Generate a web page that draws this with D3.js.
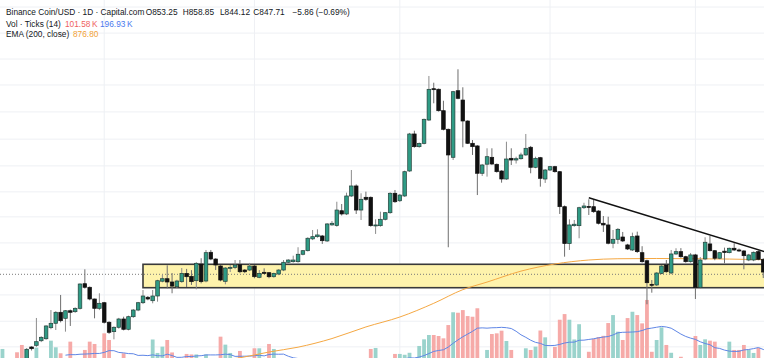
<!DOCTYPE html>
<html><head><meta charset="utf-8">
<script src="https://cdn.jsdelivr.net/npm/d3@7"></script>
<style>
html,body{margin:0;padding:0;background:#fff;overflow:hidden}
svg{display:block}
text{font-family:"Liberation Sans",Arial,sans-serif}
</style></head><body>
<svg id="c" width="764" height="358"></svg>
<script>
// ---- data (daily candles from 2025-07-11) ----
const startDate = "2025-07-11";
const opens = [684,692,689,693,690,
689,715.8,718.6,726.3,729.7,748.7,756.4,776.0,765.2,778.8,
777.1,783.2,829.4,822.5,800.4,783.2,793.5,758.2,741.8,749.4,
764.0,745.9,768.1,780.1,793.5,803.6,797.2,806.0,834.2,839.1,
832.7,823.5,833.3,849.6,843.8,835.2,868.3,834.6,892.3,878.4,
864.3,834.0,860.2,861.6,866.9,856.2,856.2,864.2,841.8,851.7,
850.9,843.0,848.3,856.2,871.8,873.0,873.0,888.2,895.6,920.6,
925.3,926.8,916.1,951.0,949.5,982.9,975.5,1017.2,1041.2,984.5,
1014.1,1014.1,948.7,949.3,963.5,978.4,1023.6,1006.0,1017.2,1078.1,
1175.1,1140.9,1149.7,1213.9,1305.7,1304.0,1240.5,1188.0,1113.0,1299.6,
1271.7,1211.1,1149.9,1142.8,1072.4,1095.3,1113.0,1095.0,1078.1,1058.2,
1110.4,1106.0,1109.4,1119.1,1139.3,1087.4,1112.0,1058.2,1080.6,1089.0,
1076.4,992.2,910.6,949.3,949.3,989.8,992.9,992.2,982.2,954.6,
950.9,911.3,919.7,924.6,907.7,897.1,926.8,891.5,874.9,828.2,
826.9,849.6,866.3,850.3,888.8,893.6,883.2,873.0,886.8,822.5,
878.6,909.8,895.6,880.0,894.6,891.5,900.7,897.1,895.0,876.4,
876.4,893.6,877.8,853.25];
const highs = [694,697,695,696,693,
714,717,765.8,734,753,780.1,778,807.9,780,781,
785,830,857.6,824,801,811.1,795,760,751,766,
768.1,770,782,795,817.3,806,817.3,837,846.3,865.7,
850.3,837,860.2,858.5,856,872,880.0,897.1,897.1,880,
866,862,866.3,876.4,876.4,858,870.5,866,856.2,859.6,
852,851,858,876.4,878,885.3,902.8,897,924,939.8,
941.3,929,955,959.7,1003.7,998.4,1025.1,1080.6,1045,1023.6,
1027.5,1016,963.5,980.7,980,1026,1031.5,1022,1079,1178,
1184.1,1152,1218,1344.9,1324.0,1306,1269.6,1190,1299,1366.0,
1310.0,1213,1158.7,1145,1096,1136.6,1136.6,1097,1080,1154.2,
1136.6,1114.6,1125.1,1175.1,1142.8,1114.6,1114,1083,1091,1091,
1078,995,963.5,961.9,992,1001.3,1009.4,1007.7,984,970.9,
969.3,939.8,944,935.5,910,934.0,936.2,905,877,836.5,
852,866,876.4,897.1,900.7,901,885,890.9,889,882.6,
924.0,926.8,897,893,902.0,902,911.3,900,897,889,
894,896,880,858.85];
const lows = [680,686,684,683,678,
686,710,716,724,728,746,744.7,758,741.8,751.7,
775,781,820,798,765.2,780,756,738,728.7,747,
744,744,766,778,791,798,792.4,795.4,832,820.5,
811.1,821,831,823.0,827,818.6,830,832,876,856.2,
834,828.2,852.2,858,850,850,854,839.9,840,848,
840,841,846,854,870,871,871,886,894,918,
923,909.8,914,949,947,972,973,1015,975.5,961.9,
1006,947,931.2,947,961,976,1001,1003,1015,1076,
1138,1138,1147,1211,1262.1,1238,1185,902.8,1106,1274,
1139.3,1148,1119.1,1019.4,1065.7,1064.0,1093,1074,1049.2,1056,
1093.3,1097,1107,1117,1072.4,1085,1039.5,1048.5,1078,1074,
975.5,883.2,897.1,947,921.9,987,973.2,978,952,935.5,
909,900.7,909.8,914,897,895,891,871,790.6,812.2,
825,848,851,848,887,881,871,871,800.4,820,
876,894,876,878,869.7,890,895,893,857.6,874,
874,876,840.4,844.12];
const closes = [692,689,693,690,689,
712.0,713.0,724.7,732.1,751.7,756.4,776.0,761.0,778.8,776.0,
783.2,828.8,822.5,800.4,783.2,792.4,758.2,740.7,749.4,764.0,
745.9,768.1,780.1,793.5,806.0,800.4,806.0,835.2,839.1,832.7,
824.8,834.6,849.6,843.0,833.3,869.7,833.3,891.5,878.4,866.3,
836.5,860.2,861.6,866.3,852.8,852.8,864.2,843.0,849.6,849.6,
843.0,849.6,856.2,871.8,876.4,876.4,888.2,895.6,921.9,925.3,
929.0,916.7,953.1,954.6,984.5,975.5,1017.2,1041.2,984.5,1009.4,
1009.4,949.3,950.9,963.5,978.4,1023.6,1003.7,1019.4,1076.4,1175.1,
1140.9,1149.7,1215.9,1303.8,1304.0,1240.5,1188.0,1119.1,1296.6,1276.8,
1211.1,1149.9,1140.9,1072.4,1093.3,1114.6,1095.8,1076.4,1058.2,1108.6,
1106.0,1109.4,1119.1,1136.6,1087.4,1110.4,1059.9,1080.6,1089.0,1076.4,
992.2,910.6,950.9,952.5,989.8,993.8,992.2,980.7,954.6,950.9,
911.3,919.7,941.3,916.1,899.2,925.3,893.6,873.0,831.3,826.9,
850.3,864.2,852.8,888.8,893.6,883.2,873.0,886.8,822.5,876.4,
913.4,895.6,880.0,891.5,891.9,900.7,897.1,895.0,885.3,886.8,
892.3,877.8,852.2,847.71];
// volume in thousands (ticks)
const volumes = [217,120,110,197,241,
215,130,225,120,130,267,227,191,125,261,
115,150,211,261,247,130,311,271,125,120,
191,130,110,120,130,120,274,193,231,271,
196,120,130,187,184,184,130,184,130,120,
291,243,193,120,205,125,140,221,221,130,
247,217,120,130,110,115,130,120,140,130,
110,125,140,110,150,130,140,155,150,130,
120,217,223,130,120,150,187,187,182,194,
130,235,275,301,301,295,281,361,438,435,
451,415,411,462,155,211,307,311,327,265,
211,130,140,221,211,231,328,287,140,229,
393,427,393,274,366,140,200,278,289,296,
373,421,321,271,403,441,421,371,512,200,
271,347,241,194,130,170,120,130,295,241,
275,267,261,140,130,261,211,211,241,211,
193,223,130,101.58];
const volMaLength = 14;
const emaDays   = [35,41,49,55,61,68,75,82,89,95,100,107,114,121,127,135,143,150,158];
const emaValues = [684,691,698,707.5,715.5,730,750,767.5,792.4,818,832.5,854,868.3,876.4,879,879.5,879,878.3,876.8];
// horizontal grid levels (log scale)
const gridPrices = [1579,1486,1399,1317,1237,1161,1091,1027,969,912,858,808,760,716];
// drawings
const zoneDays = [29, 175];
const zonePrices = [867.7, 821.7];
const trendDays = [121, 158];
const trendPrices = [1013.1, 891.1];
const lastPrice = 847.71;
// legend texts
const title = "Binance Coin/USD \u00b7 1D \u00b7 Capital.com";
const ohlcLabels = ["O853.25","H858.85","L844.12","C847.71","\u22125.86 (\u22120.69%)"];
const volLabel = "Vol \u00b7 Ticks (14)";
const volValues = ["101.58\u2009K","196.93\u2009K"];
const emaLabel = "EMA (200, close)";
const emaValueLabel = "876.80";

// ---- scales ----
const W = 764, H = 358;
const t0 = d3.utcParse("%Y-%m-%d")(startDate);
const day = k => d3.utcDay.offset(t0, k);
const x = d3.scaleUtc().domain([day(5), day(158)]).range([26.7, 768.1]);
const y = d3.scaleLog().domain([697.7, 1605]).range([H, 0]);
const yv = d3.scaleLinear().domain([0, 1000]).range([385, 218.9]);

const svg = d3.select("#c");
const gridColor = "#eef0f4";

// grid
svg.append("g").selectAll("line").data(gridPrices).join("line")
  .attr("x1", 0).attr("x2", W).attr("y1", d => y(d)).attr("y2", d => y(d))
  .attr("stroke", gridColor).attr("stroke-width", 1);
svg.append("g").selectAll("line").data(x.ticks(d3.utcMonth.every(1))).join("line")
  .attr("x1", d => x(d)).attr("x2", d => x(d)).attr("y1", 0).attr("y2", H)
  .attr("stroke", gridColor).attr("stroke-width", 1);

const idx = d3.range(opens.length);
const isUp = k => closes[k] >= opens[k];

// volume bars
const bw = 3.8;
svg.append("g").selectAll("rect").data(idx).join("rect")
  .attr("x", k => x(day(k)) - bw / 2).attr("width", bw)
  .attr("y", k => yv(volumes[k])).attr("height", k => yv(0) - yv(volumes[k]))
  .attr("fill", k => isUp(k) ? "#9ad3cc" : "#f6aaa8");

// volume MA
const ma = [];
for (let k = volMaLength - 1; k < volumes.length; k++) {
  ma.push({k, v: d3.mean(volumes.slice(k - volMaLength + 1, k + 1))});
}
svg.append("path").datum(ma)
  .attr("d", d3.line().x(d => x(day(d.k))).y(d => yv(d.v)))
  .attr("fill", "none").attr("stroke", "#5f86e6").attr("stroke-width", 1);

// zone rectangle
svg.append("rect")
  .attr("x", x(day(zoneDays[0]))).attr("width", x(day(zoneDays[1])) - x(day(zoneDays[0])))
  .attr("y", y(zonePrices[0])).attr("height", y(zonePrices[1]) - y(zonePrices[0]))
  .attr("fill", "#fef3ac").attr("stroke", "#3a3a3a").attr("stroke-width", 1.6);

// last price dotted line
svg.append("line").attr("x1", 0).attr("x2", W)
  .attr("y1", y(lastPrice)).attr("y2", y(lastPrice))
  .attr("stroke", "#7a7a7a").attr("stroke-width", 1).attr("stroke-dasharray", "1,2");

// EMA
svg.append("path").datum(emaDays.map((d, i) => ({d, v: emaValues[i]})))
  .attr("d", d3.line().x(p => x(day(p.d))).y(p => y(p.v)).curve(d3.curveMonotoneX))
  .attr("fill", "none").attr("stroke", "#f5a843").attr("stroke-width", 1);

// candles
const cg = svg.append("g");
cg.selectAll("line").data(idx).join("line")
  .attr("x1", k => x(day(k))).attr("x2", k => x(day(k)))
  .attr("y1", k => y(highs[k])).attr("y2", k => y(lows[k]))
  .attr("stroke", k => isUp(k) ? "#8c8c8c" : "#6e6e6e").attr("stroke-width", 1);
const cw = 3.6;
cg.selectAll("rect").data(idx).join("rect")
  .attr("x", k => x(day(k)) - cw / 2).attr("width", cw)
  .attr("y", k => y(Math.max(opens[k], closes[k])))
  .attr("height", k => Math.max(1, y(Math.min(opens[k], closes[k])) - y(Math.max(opens[k], closes[k]))))
  .attr("fill", k => isUp(k) ? "#2f9b85" : "#111111")
  .attr("stroke", k => isUp(k) ? "#24403a" : "#111111").attr("stroke-width", 0.7);

// trend line
svg.append("line")
  .attr("x1", x(day(trendDays[0]))).attr("y1", y(trendPrices[0]))
  .attr("x2", x(day(trendDays[1]))).attr("y2", y(trendPrices[1]))
  .attr("stroke", "#111").attr("stroke-width", 1.4);

// legend
const fs = 8.3;
const lg = svg.append("g").attr("font-size", fs).attr("fill", "#131722");
lg.append("text").attr("x", 6).attr("y", 14.7).text(title);
const ohlcX = [145.7, 182.7, 220, 253.3, 292.5];
ohlcLabels.forEach((t, i) => lg.append("text").attr("x", ohlcX[i]).attr("y", 14.7).text(t));
lg.append("text").attr("x", 6).attr("y", 26.5).text(volLabel);
lg.append("text").attr("x", 65).attr("y", 26.5).attr("fill", "#ef5f5f").text(volValues[0]);
lg.append("text").attr("x", 100).attr("y", 26.5).attr("fill", "#4a78ee").text(volValues[1]);
lg.append("text").attr("x", 6).attr("y", 37.2).text(emaLabel);
lg.append("text").attr("x", 73).attr("y", 37.2).attr("fill", "#f2a236").text(emaValueLabel);
</script>
</body></html>
